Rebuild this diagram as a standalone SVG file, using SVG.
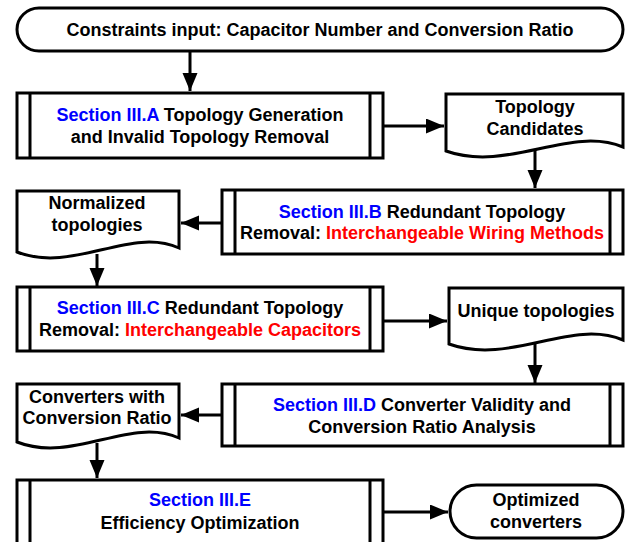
<svg xmlns="http://www.w3.org/2000/svg" width="626" height="542" viewBox="0 0 626 542">
<style>
.s{fill:#fff;stroke:#000;stroke-width:3;stroke-linejoin:miter}
.l{fill:none;stroke:#000;stroke-width:3}
.c{fill:none;stroke:#000;stroke-width:3}
text{font-family:"Liberation Sans",Arial,sans-serif;font-size:18px;font-weight:bold;fill:#000;text-anchor:middle}
.b{fill:#0000ff}
.r{fill:#ff0000}
</style>
<defs>
<marker id="ah" markerUnits="userSpaceOnUse" markerWidth="20" markerHeight="16" refX="18" refY="7.5" orient="auto">
<path d="M0,0 L18,7.5 L0,15 Z" fill="#000"/>
</marker>
</defs>
<rect width="626" height="542" fill="#fff"/>
<g id="connectors">
<path class="c" d="M190,51 V91" marker-end="url(#ah)"/>
<path class="c" d="M383,126 H444" marker-end="url(#ah)"/>
<path class="c" d="M535,149 V188" marker-end="url(#ah)"/>
<path class="c" d="M222,223 H181" marker-end="url(#ah)"/>
<path class="c" d="M97,254 V286" marker-end="url(#ah)"/>
<path class="c" d="M383,321 H447" marker-end="url(#ah)"/>
<path class="c" d="M535,344 V383" marker-end="url(#ah)"/>
<path class="c" d="M222,415 H181" marker-end="url(#ah)"/>
<path class="c" d="M97,443 V478" marker-end="url(#ah)"/>
<path class="c" d="M383,512 H448" marker-end="url(#ah)"/>
</g>
<g id="start">
<rect class="s" x="17" y="8" width="606" height="43" rx="22" ry="21.5"/>
<text x="320" y="36">Constraints input: Capacitor Number and Conversion Ratio</text>
</g>
<g id="secA">
<rect class="s" x="17" y="93" width="366" height="65"/>
<path class="l" d="M30,93 V158 M370,93 V158"/>
<text x="200" y="121"><tspan class="b">Section III.A</tspan> Topology Generation</text>
<text x="200" y="143">and Invalid Topology Removal</text>
</g>
<g id="candidates">
<path class="s" d="M446,94 H623 V147 C570,125 508,173 446,151 Z"/>
<text x="535" y="113">Topology</text>
<text x="535" y="135">Candidates</text>
</g>
<g id="secB">
<rect class="s" x="222" y="190" width="401" height="64"/>
<path class="l" d="M235,190 V254 M610,190 V254"/>
<text x="422" y="218"><tspan class="b">Section III.B</tspan> Redundant Topology</text>
<text x="422" y="239">Removal: <tspan class="r">Interchangeable Wiring Methods</tspan></text>
</g>
<g id="normalized">
<path class="s" d="M17,191 H179 V248 C130,226 73,274 17,252 Z"/>
<text x="97" y="209">Normalized</text>
<text x="97" y="231">topologies</text>
</g>
<g id="secC">
<rect class="s" x="17" y="287" width="366" height="64"/>
<path class="l" d="M30,287 V351 M370,287 V351"/>
<text x="200" y="314"><tspan class="b">Section III.C</tspan> Redundant Topology</text>
<text x="200" y="336">Removal: <tspan class="r">Interchangeable Capacitors</tspan></text>
</g>
<g id="unique">
<path class="s" d="M449,288 H623 V340 C571,318 510,366 449,344 Z"/>
<text x="536" y="317">Unique topologies</text>
</g>
<g id="secD">
<rect class="s" x="222" y="384" width="401" height="62"/>
<path class="l" d="M235,384 V446 M610,384 V446"/>
<text x="422" y="411"><tspan class="b">Section III.D</tspan> Converter Validity and</text>
<text x="422" y="433">Conversion Ratio Analysis</text>
</g>
<g id="converters">
<path class="s" d="M17,384 H179 V438 C130,416 73,464 17,442 Z"/>
<text x="97" y="403">Converters with</text>
<text x="97" y="424">Conversion Ratio</text>
</g>
<g id="secE">
<rect class="s" x="17" y="480" width="366" height="70"/>
<path class="l" d="M30,480 V550 M370,480 V550"/>
<text x="200" y="506"><tspan class="b">Section III.E</tspan></text>
<text x="200" y="529">Efficiency Optimization</text>
</g>
<g id="end">
<rect class="s" x="450" y="485" width="173" height="53" rx="26.5" ry="26.5"/>
<text x="536" y="506">Optimized</text>
<text x="536" y="528">converters</text>
</g>
</svg>
